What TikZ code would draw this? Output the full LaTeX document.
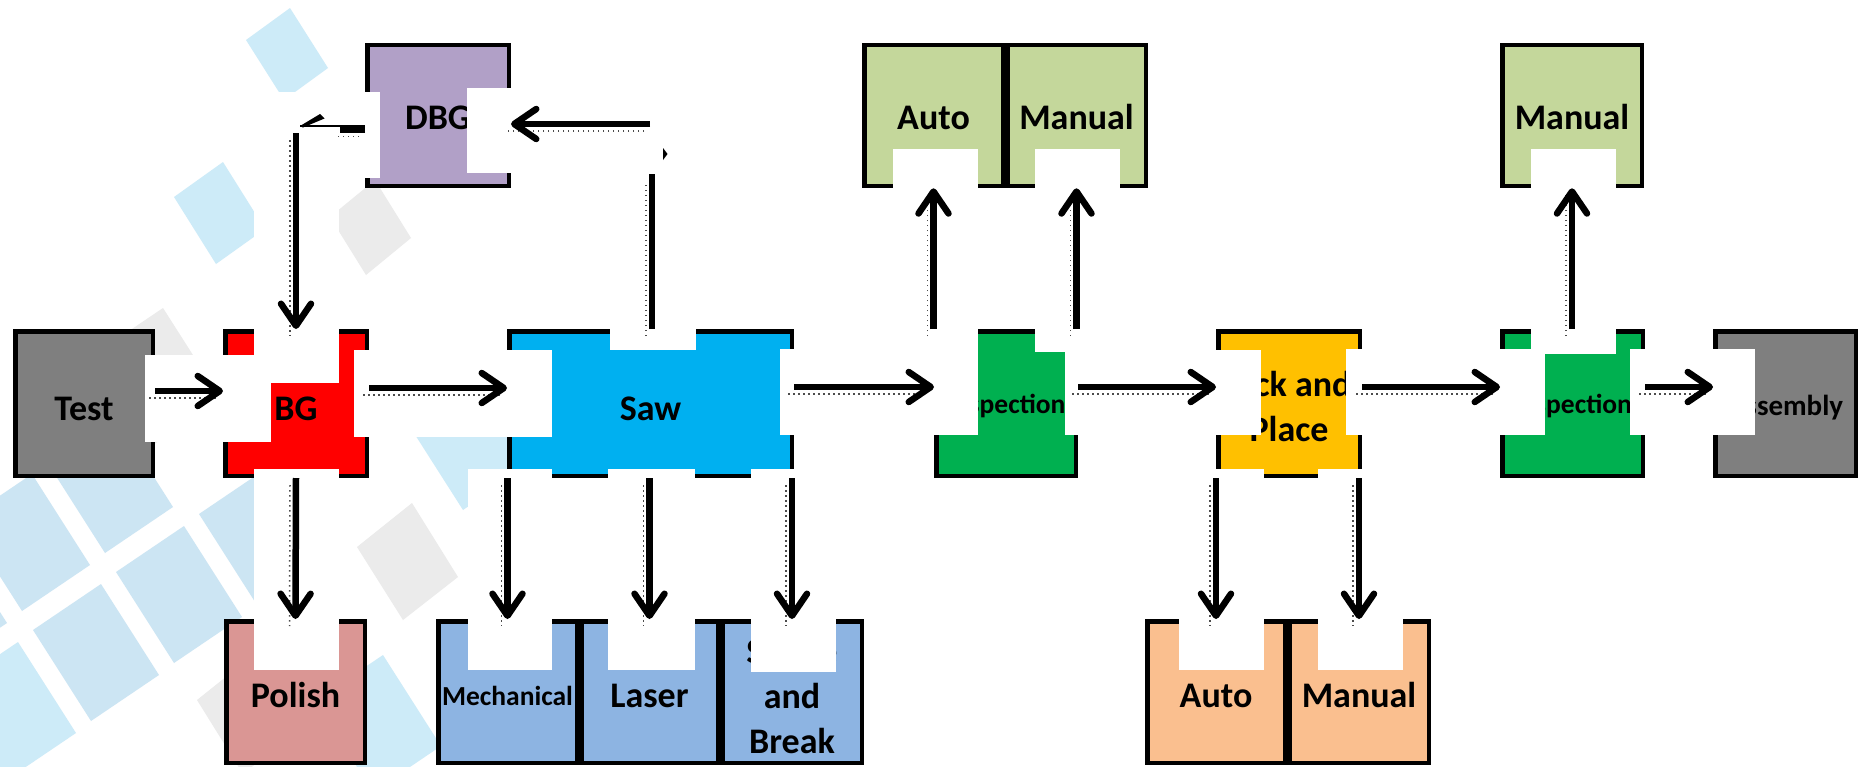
\documentclass[tikz,border=0pt]{standalone}
\usepackage{fontspec}
\setmainfont{Carlito}
\usetikzlibrary{arrows.meta}

\definecolor{cGrey}{HTML}{7F7F7F}
\definecolor{cRed}{HTML}{FF0000}
\definecolor{cSaw}{HTML}{00B0F0}
\definecolor{cDbg}{HTML}{B1A0C7}
\definecolor{cInsp}{HTML}{00B050}
\definecolor{cPnp}{HTML}{FFC000}
\definecolor{cLime}{HTML}{C4D79B}
\definecolor{cPolish}{HTML}{DA9694}
\definecolor{cCut}{HTML}{8DB4E2}
\definecolor{cPeach}{HTML}{FABF8F}
\definecolor{tileBlue}{HTML}{CCE5F3}
\definecolor{tileSky}{HTML}{CDEBF8}
\definecolor{tileGrey}{HTML}{EBEBEB}

\tikzset{
  box/.style={draw=black, line width=4.5pt, inner sep=0pt, minimum height=144.5pt,
              font=\bfseries\fontsize{36}{45}\selectfont},
  oneline/.style={text height=#1, text depth=0pt},
  oneline/.default=33pt,
  small/.style={font=\bfseries\fontsize{#1}{45}\selectfont},
  patch/.style={fill=white},
  flow/.style={line width=6.5pt, -{Straight Barb[length=22pt,width=30pt,round]}},
  bar/.style={line width=6.5pt},
  halftone/.style={draw=black!70, line width=1.5pt, dash pattern=on 1.5pt off 3.5pt,
                   transform canvas={shift={(-6pt,-7pt)}}},
}

% one tile of the panel pattern, given by its left corner
\newcommand\tile[3]{\fill[#1] (#2,#3) -- ++(68,-46) -- ++(58,91) -- ++(-68,46) -- cycle;}
% an arrow with its dotted shadow
\newcommand\flow[2]{\draw[halftone] #1 -- #2; \draw[flow] #1 -- #2;}

\begin{document}
\begin{tikzpicture}[x=1pt,y=-1pt]
\useasboundingbox (0,0) rectangle (1864,766);
\fill[white] (0,0) rectangle (1864,766);

% ---- background decoration ----
\tile{tileBlue}{-119}{578}
\tile{tileBlue}{-36}{520}
\tile{tileBlue}{47}{462}
\tile{tileSky}{-50}{688}
\tile{tileBlue}{33}{630}
\tile{tileBlue}{116}{572}
\tile{tileBlue}{199}{514}
\tile{tileSky}{405}{419}
\tile{tileSky}{315}{701}
\fill[tileSky] (246,40) -- (290,8) -- (328,68) -- (284,100) -- cycle;
\fill[tileSky] (174,197) -- (223,162) -- (265,229) -- (216,264) -- cycle;
\fill[tileGrey] (95,354) -- (163,308) -- (221,399) -- (153,445) -- cycle;
\fill[tileGrey] (330,217) -- (375,180) -- (411,238) -- (366,275) -- cycle;
\fill[tileGrey] (357,547) -- (412,503) -- (458,577) -- (403,620) -- cycle;
\fill[tileGrey] (197,700) -- (252,656) -- (298,730) -- (243,774) -- cycle;

% ---- main process row ----
\node[box, oneline, fill=cGrey,  minimum width=137.5pt] (test)  at (84,403.5)   {Test};
\node[box, oneline, fill=cRed,   minimum width=141.5pt] (bg)    at (296,403.5)  {BG};
\node[box, oneline, fill=cSaw,   minimum width=282.5pt] (saw)   at (650.5,403.5) {Saw};
\node[box, oneline=20pt, small=27.5, fill=cInsp, minimum width=139.5pt] (insp1) at (1006,403.5) {Inspection};
\node[box, fill=cPnp, align=center, minimum width=141.5pt] (pnp) at (1289,403.5) {\rule{0pt}{31pt}Pick and\\Place};
\node[box, oneline=20pt, small=27.5, fill=cInsp, minimum width=140.5pt] (insp2) at (1572.5,403.5) {Inspection};
\node[box, oneline=23pt, small=29, fill=cGrey, minimum width=140.5pt] (asm) at (1785.5,403.5) {Assembly};

% ---- upper row ----
\node[box, oneline=27pt, fill=cDbg,  minimum width=141.5pt, minimum height=141pt] (dbg)   at (438,115.5)   {DBG};
\node[box, oneline=27pt, fill=cLime, minimum width=138.5pt, minimum height=141pt] (autoT) at (933.5,115.5) {Auto};
\node[box, oneline=27pt, fill=cLime, minimum width=138.5pt, minimum height=141pt] (manT)  at (1076.5,115.5) {Manual};
\node[box, oneline=27pt, fill=cLime, minimum width=139.5pt, minimum height=141pt] (manT2) at (1572,115.5)  {Manual};

% ---- lower row ----
\node[box, oneline=30pt, fill=cPolish, minimum width=138.5pt, minimum height=141.5pt] (polish) at (295.5,692) {Polish};
\node[box, oneline=26pt, small=27.5, fill=cCut, minimum width=138.5pt, minimum height=141.5pt] (mech) at (507.5,692) {Mechanical};
\node[box, oneline=30pt, fill=cCut, minimum width=136.5pt, minimum height=141.5pt] (laser) at (649.5,692) {Laser};
\node[box, fill=cCut, align=center, minimum width=139.5pt, minimum height=141.5pt] (scribe) at (792,692) {\rule{0pt}{33pt}Scribe\\and\\Break};
\node[box, oneline=30pt, fill=cPeach, minimum width=137.5pt, minimum height=141.5pt] (autoB) at (1216,692) {Auto};
\node[box, oneline=30pt, fill=cPeach, minimum width=139.5pt, minimum height=141.5pt] (manB)  at (1359,692) {Manual};

% ---- white grounds of the connectors ----
\fill[patch] (145,355) rectangle (271,442);
\fill[patch] (354,350) rectangle (552,437);
\fill[patch] (780,349) rectangle (978,435);
\fill[patch] (1065,350) rectangle (1261,435);
\fill[patch] (1346,349) rectangle (1545,435);
\fill[patch] (1630,349) rectangle (1755,435);
\fill[patch] (254,92) rectangle (380,178);
\fill[patch] (254,92) rectangle (339,383);
\fill[patch] (467,88) rectangle (661,173);
\fill[patch] (610,175) rectangle (696,350);
\fill[patch] (254,469) rectangle (339,670);
\fill[patch] (468,469) rectangle (552,670);
\fill[patch] (608,469) rectangle (695,670);
\fill[patch] (751,469) rectangle (836,672);
\fill[patch] (893,149) rectangle (978,352);
\fill[patch] (1035,149) rectangle (1120,352);
\fill[patch] (1179,469) rectangle (1264,670);
\fill[patch] (1318,469) rectangle (1403,670);
\fill[patch] (1531,149) rectangle (1616,354);

% ---- connectors ----
\coordinate (rowA) at (0,391);
\coordinate (rowB) at (0,388);
\coordinate (rowC) at (0,387);

\flow{(test.east |- rowA)}{(bg.west |- rowA)}
\flow{(bg.east |- rowB)}{(saw.west |- rowB)}
\flow{(saw.east |- rowC)}{(insp1.west |- rowC)}
\flow{(insp1.east |- rowC)}{(pnp.west |- rowC)}
\flow{(pnp.east |- rowC)}{(insp2.west |- rowC)}
\flow{(insp2.east |- rowC)}{(asm.west |- rowC)}

% DBG back to BG
\coordinate (kink) at (340,129.5);
\coordinate (corner) at (300,126);
\coordinate (turnA) at (296,133);
\draw[halftone] (dbg.west |- kink) -- (kink);
\draw[bar] (dbg.west |- kink) -- (kink);
\draw[line width=1.2pt] (dbg.west |- corner) -- (corner);
\fill (corner) -- (320,114) -- (324.5,118.5) -- (303,127.5) -- cycle;
\flow{(turnA)}{(bg.north)}

% Saw up to DBG
\coordinate (turnB) at (652,174);
\coordinate (turnC) at (650,124);
\draw[halftone] (saw.north -| turnB) -- (turnB);
\draw[bar] (saw.north -| turnB) -- (turnB);
\flow{(turnC)}{(dbg.east |- turnC)}
\fill (663,148) -- (667.5,154) -- (663,160) -- cycle;

% branches downwards
\flow{(bg.south)}{(polish.north)}
\flow{(mech.north |- saw.south)}{(mech.north)}
\flow{(laser.north |- saw.south)}{(laser.north)}
\flow{(scribe.north |- saw.south)}{(scribe.north)}
\flow{(autoB.north |- pnp.south)}{(autoB.north)}
\flow{(manB.north |- pnp.south)}{(manB.north)}

% branches upwards
\flow{(autoT.south |- insp1.north)}{(autoT.south)}
\flow{(manT.south |- insp1.north)}{(manT.south)}
\flow{(manT2.south |- insp2.north)}{(manT2.south)}
\end{tikzpicture}
\end{document}
